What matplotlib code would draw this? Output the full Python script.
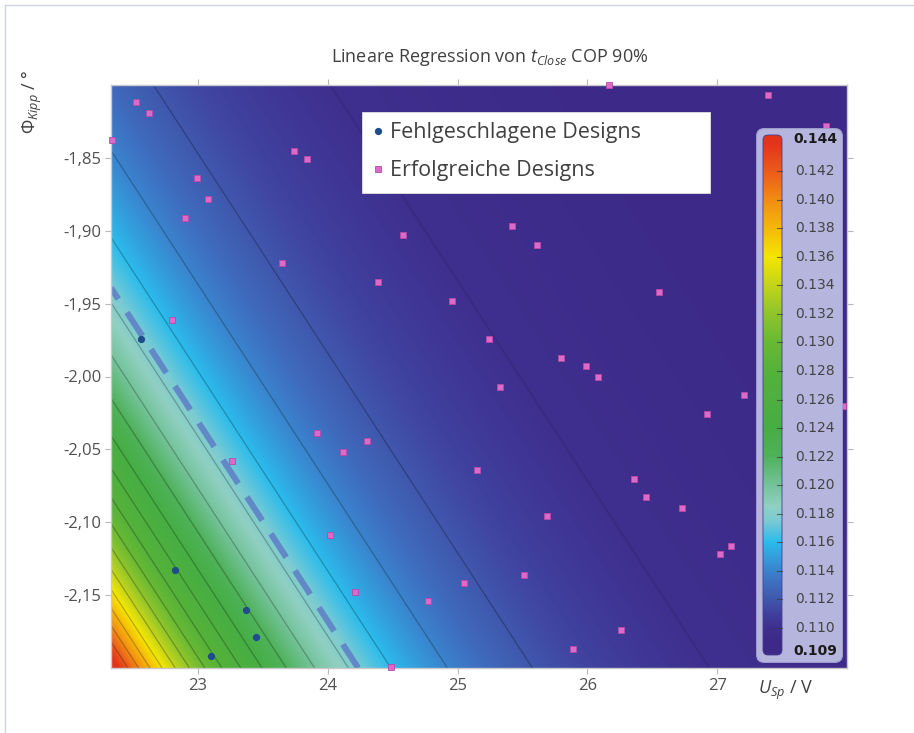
import numpy as np
import matplotlib
matplotlib.use("Agg")
import matplotlib.pyplot as plt
from matplotlib.colors import LinearSegmentedColormap, Normalize
from matplotlib.patches import FancyBboxPatch, Rectangle
from matplotlib.lines import Line2D

plt.rcParams['font.family'] = ['Open Sans', 'DejaVu Sans']
plt.rcParams['mathtext.fontset'] = 'custom'
plt.rcParams['mathtext.rm'] = 'Open Sans'
plt.rcParams['mathtext.it'] = 'Open Sans:italic'
plt.rcParams['mathtext.bf'] = 'Open Sans:bold'

# ---------------- data ----------------
failed_u = [22.56, 22.82, 23.37, 23.45, 23.10]
failed_phi = [-1.974, -2.133, -2.160, -2.179, -2.192]

success_u = [22.52, 22.62, 22.34, 23.74, 23.84, 22.99, 23.08, 22.90, 23.65, 24.39,
             22.80, 24.58, 25.42, 25.61, 24.96, 26.55, 25.24, 25.80, 25.99, 26.08,
             25.33, 27.21, 26.92, 25.15, 26.36, 26.45, 23.26, 23.92, 24.12, 24.30,
             24.02, 24.21, 24.77, 24.49, 25.05, 25.51, 25.69, 25.89, 26.26, 26.73,
             27.02, 27.11, 27.39, 26.17, 27.84, 27.97]
success_phi = [-1.812, -1.819, -1.838, -1.845, -1.851, -1.864, -1.878, -1.891, -1.922, -1.935,
               -1.961, -1.903, -1.897, -1.910, -1.948, -1.942, -1.974, -1.987, -1.993, -2.000,
               -2.007, -2.013, -2.026, -2.064, -2.070, -2.083, -2.058, -2.039, -2.052, -2.044,
               -2.109, -2.148, -2.154, -2.199, -2.142, -2.136, -2.096, -2.187, -2.174, -2.090,
               -2.122, -2.116, -1.807, -1.800, -1.828, -2.020]

x_ticks = [23, 24, 25, 26, 27]
x_tick_labels = ["23", "24", "25", "26", "27"]
y_ticks = [-1.85, -1.90, -1.95, -2.00, -2.05, -2.10, -2.15]
y_tick_labels = ["-1,85", "-1,90", "-1,95", "-2,00", "-2,05", "-2,10", "-2,15"]
cbar_ticks = [0.110, 0.112, 0.114, 0.116, 0.118, 0.120, 0.122, 0.124, 0.126,
              0.128, 0.130, 0.132, 0.134, 0.136, 0.138, 0.140, 0.142]
cbar_tick_labels = ["0.110", "0.112", "0.114", "0.116", "0.118", "0.120", "0.122", "0.124",
                    "0.126", "0.128", "0.130", "0.132", "0.134", "0.136", "0.138", "0.140", "0.142"]
cbar_min, cbar_max = 0.109, 0.144
threshold = 0.1175

u_range = (22.33, 28.0)
phi_range = (-2.2, -1.8)

# regression model  t = c + g0 * exp(-k * (U + kphi*Phi - s0))
model_c, model_g0, model_k, model_s0, model_kphi = 0.1089, 0.0011, 0.76, 10.88, 7.3

cmap_values = [0.1090, 0.1100, 0.1110, 0.1120, 0.1130, 0.1140, 0.1160, 0.1175, 0.1185,
               0.1200, 0.1220, 0.1240, 0.1280, 0.1300, 0.1320, 0.1340, 0.1360, 0.1380,
               0.1400, 0.1420, 0.1440]
cmap_colors = ["#3d2a88", "#3f308f", "#40419f", "#4058ae", "#3f6cbe", "#3a84ce", "#2bbcec",
               "#7ccbd2", "#90d0c2", "#74c39a", "#4fb25a", "#46ae44", "#55b23a", "#68b934",
               "#8ec52c", "#c2d41c", "#f4e602", "#f6b90a", "#f28d14", "#ec5c1a", "#e3341a"]

# ---------------- figure ----------------
W, H = 914, 733
fig = plt.figure(figsize=(W / 100, H / 100), dpi=100)
fig.patch.set_facecolor('white')
fig.add_artist(Line2D([5 / W, 5 / W], [0, 1 - 5 / H], transform=fig.transFigure, color='#cdd5e0', lw=1))
fig.add_artist(Line2D([5 / W, 1], [1 - 5 / H, 1 - 5 / H], transform=fig.transFigure, color='#cdd5e0', lw=1))

ax = fig.add_axes([111 / W, 1 - 668 / H, 736 / W, 583 / H])

norm = Normalize(vmin=cbar_min, vmax=cbar_max)
cpos = [(v - cbar_min) / (cbar_max - cbar_min) for v in cmap_values]
cmap = LinearSegmentedColormap.from_list('tclose', list(zip(cpos, cmap_colors)), N=512)

uu = np.linspace(u_range[0], u_range[1], 700)
pp = np.linspace(phi_range[0], phi_range[1], 500)
U, P = np.meshgrid(uu, pp)
Z = model_c + model_g0 * np.exp(-model_k * (U + model_kphi * P - model_s0))

ax.imshow(Z, extent=(u_range[0], u_range[1], phi_range[0], phi_range[1]), origin='lower',
          cmap=cmap, norm=norm, aspect='auto', interpolation='bilinear', zorder=0)
line_cols = []
for l in cbar_ticks:
    f = 0.86 if l < 0.111 else 0.74
    line_cols.append(tuple(np.array(cmap(norm(l)))[:3] * f))
ax.contour(U, P, Z, levels=cbar_ticks, colors=line_cols, linewidths=0.9, zorder=1)
ax.contour(U, P, Z, levels=[threshold], colors=['#6082c6'], linewidths=4.4,
           linestyles=[(0, (4.6, 2.6))], alpha=0.9, zorder=2)

ax.plot(success_u, success_phi, 's', ms=3.8, mfc='#dc6acb', mec='#b84aa4', mew=0.6,
        zorder=3, label='Erfolgreiche Designs', clip_on=False)
ax.plot(failed_u, failed_phi, 'o', ms=4.2, mfc='#1e4c8c', mec='#1e4c8c',
        zorder=3, label='Fehlgeschlagene Designs')

ax.set_xlim(*u_range)
ax.set_ylim(*phi_range)
ax.set_xticks(x_ticks)
ax.set_xticklabels(x_tick_labels)
ax.set_yticks(y_ticks)
ax.set_yticklabels(y_tick_labels)
ax.tick_params(which='both', direction='out', length=4, width=0.8, color='#b8b8b8',
               top=True, right=True, labelsize=12, labelcolor='#505050', pad=3)
for sp in ax.spines.values():
    sp.set_color('#c8c8c8')
    sp.set_linewidth(1.0)

# legend box
ax.add_patch(Rectangle((0.341, 0.8148), 0.473, 0.139, transform=ax.transAxes,
                       facecolor='white', edgecolor='#e0e0e0', lw=0.6, zorder=4))
h, l = ax.get_legend_handles_labels()
leg = ax.legend([h[1], h[0]], [l[1], l[0]], loc='upper left', bbox_to_anchor=(0.355, 0.936),
                frameon=False, fontsize=15.5, handlelength=0.5, handletextpad=0.3,
                labelspacing=0.78, borderpad=0.0, borderaxespad=0.0)
leg.set_zorder(5)
for t in leg.get_texts():
    t.set_color('#404040')

# colorbar
bx0, by0, bw, bh = 756, 128, 87, 535
cax = fig.add_axes([bx0 / W, 1 - (by0 + bh) / H, bw / W, bh / H])
cax.set_xlim(0, bw)
cax.set_ylim(0, bh)
cax.axis('off')
cax.add_patch(FancyBboxPatch((0.5, 0.5), bw - 1, bh - 1, boxstyle='round,pad=0,rounding_size=8',
                             facecolor='#b6b5dd', edgecolor='#9d9bcc', lw=0.8))
bar = FancyBboxPatch((7, 8), 19, 520, boxstyle='round,pad=0,rounding_size=5',
                     facecolor='none', edgecolor='#4a3c8c', lw=0.6, zorder=3)
cax.add_patch(bar)


def cb_y(v):
    return 35 + (v - 0.110) * (492 - 35) / 0.032


grad_lo = 0.110 + (8 - 35) * 0.032 / (492 - 35)
grad_hi = 0.110 + (528 - 35) * 0.032 / (492 - 35)
grad = np.linspace(grad_lo, grad_hi, 600).reshape(-1, 1)
im = cax.imshow(grad, extent=(7, 26, 8, 528), origin='lower', cmap=cmap, norm=norm,
                aspect='auto', zorder=2)
im.set_clip_path(bar)
for v, lab in zip(cbar_ticks, cbar_tick_labels):
    y = cb_y(v)
    cax.plot([21, 26], [y, y], color='#3a3a3a', lw=0.8, alpha=0.7, zorder=4)
    cax.text(39, y, lab, fontsize=10, family='DejaVu Sans', color='#444444',
             ha='left', va='center')
cax.text(37, 524, "0.144", fontsize=10, family='DejaVu Sans', fontweight='bold',
         color='#1a1a1a', ha='left', va='center')
cax.text(37, 12, "0.109", fontsize=10, family='DejaVu Sans', fontweight='bold',
         color='#1a1a1a', ha='left', va='center')

# texts
fig.text(490 / W, 1 - 58 / H, r"Lineare Regression von $\mathit{t}_{\mathit{Close}}$ COP 90%",
         ha='center', va='center', fontsize=13, color='#404040')
fig.text(32 / W, 1 - 102 / H, r"$\mathit{Φ}_{\mathit{Kipp}}$ / °", rotation=90,
         ha='center', va='center', fontsize=13, color='#404040')
fig.text(786 / W, 1 - 690 / H, r"$\mathit{U}_{\mathit{Sp}}$ / V",
         ha='center', va='center', fontsize=13, color='#404040')

fig.savefig('out.png', dpi=100)
